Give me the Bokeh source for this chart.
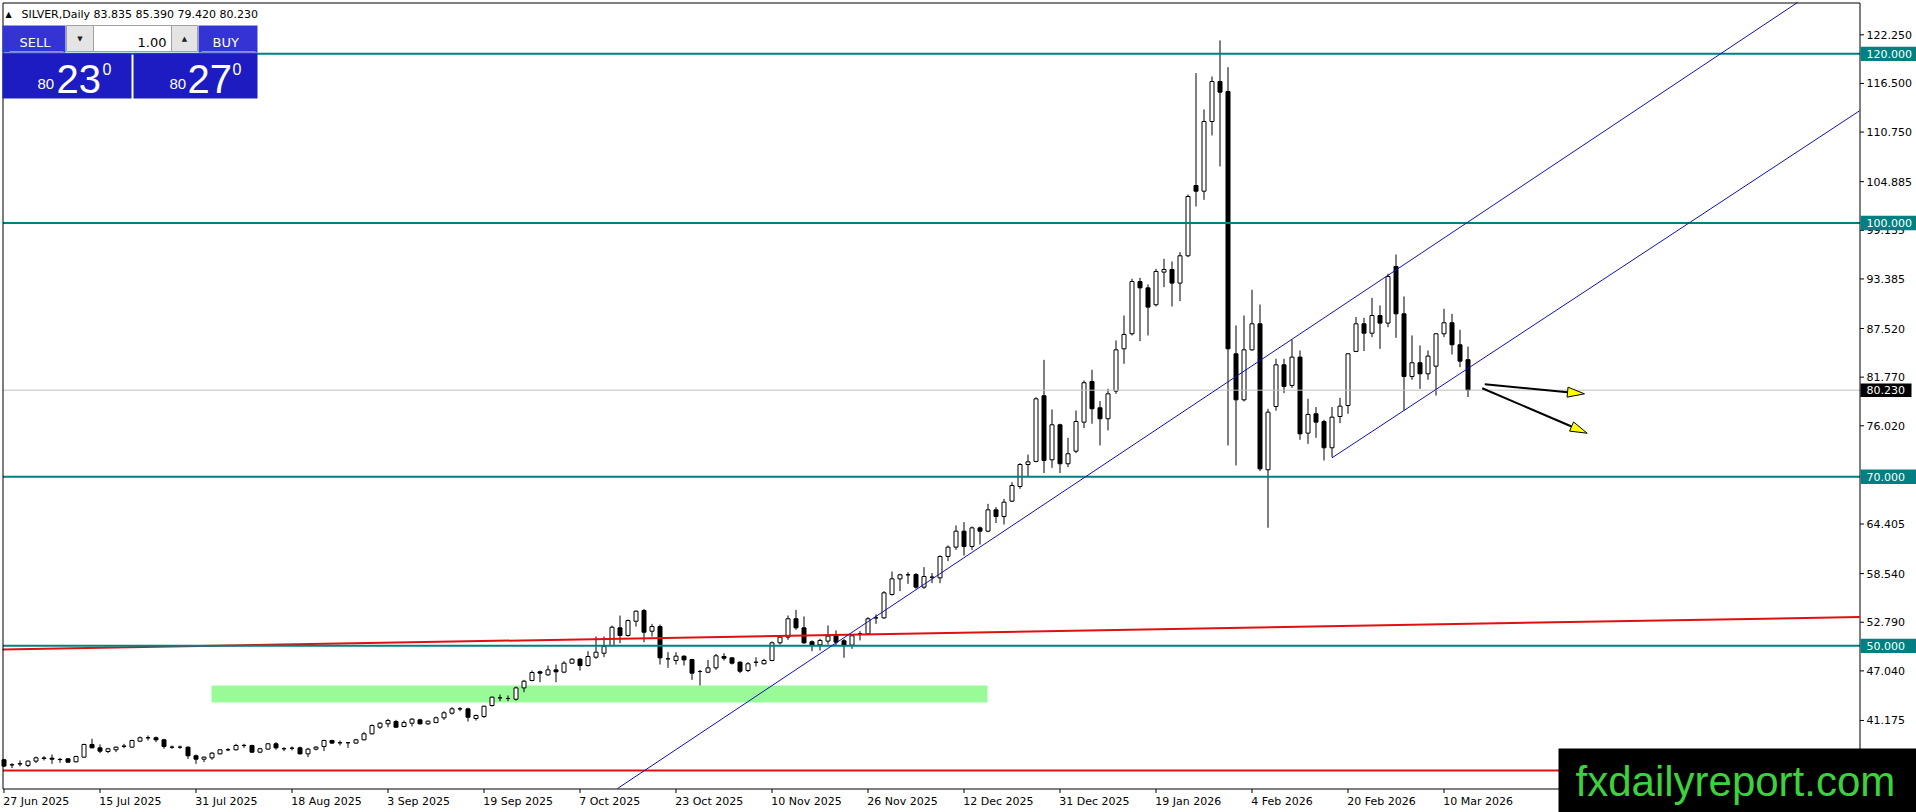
import math
from bokeh.plotting import figure
from bokeh.models import Range1d
from bokeh.core.properties import value
from bokeh.embed import file_html
from bokeh.resources import INLINE

# ---------------- data ----------------
opens = [36.53, 35.92, 36.03, 35.86, 36.37, 36.70, 36.72, 36.55, 36.64, 36.29,
         36.84, 38.34, 37.94, 37.51, 37.71, 38.12, 38.02, 38.73, 39.12, 39.13,
         38.89, 38.01, 38.02, 38.02, 37.00, 36.60, 36.76, 37.23, 37.70, 37.71,
         38.21, 38.22, 37.43, 37.79, 38.42, 37.83, 37.89, 37.94, 37.23, 37.79,
         38.10, 38.81, 38.53, 38.54, 38.50, 38.89, 39.60, 40.38, 40.78, 41.05,
         40.46, 40.85, 41.25, 40.78, 40.93, 41.49, 42.04, 42.54, 42.55, 41.41,
         41.64, 42.94, 43.85, 43.77, 43.69, 45.03, 45.90, 46.93, 46.57, 47.16,
         46.89, 47.95, 48.42, 47.67, 48.66, 49.13, 50.04, 52.13, 51.22, 52.91,
         54.18, 51.73, 52.28, 48.46, 48.27, 48.78, 48.38, 46.96, 46.88, 47.40,
         48.74, 48.58, 48.07, 47.09, 48.05, 47.88, 48.27, 50.36, 51.03, 53.20,
         52.13, 50.48, 50.12, 50.56, 51.23, 50.60, 50.08, 51.41, 51.42, 53.30,
         53.31, 56.07, 57.92, 58.39, 58.44, 56.94, 58.11, 58.04, 60.57, 61.67,
         63.56, 61.75, 63.95, 63.56, 66.08, 65.29, 67.11, 68.84, 71.44, 71.80,
         79.57, 72.00, 76.14, 71.53, 73.02, 76.45, 81.26, 78.15, 76.85, 80.12,
         85.12, 86.90, 93.08, 92.33, 90.33, 94.19, 94.50, 92.89, 96.12, 104.43,
         103.76, 112.00, 116.73, 115.55, 84.53, 79.09, 85.00, 88.08, 70.82, 78.30,
         83.23, 80.79, 84.14, 75.15, 77.44, 76.53, 73.42, 77.12, 78.42, 84.81,
         88.08, 86.97, 89.06, 88.16, 94.86, 89.26, 81.85, 83.47, 82.17, 83.07,
         86.90, 88.20, 85.60, 83.835]
highs = [36.64, 36.13, 36.45, 36.45, 36.92, 36.96, 37.16, 36.76, 36.72, 37.00,
         38.42, 39.01, 38.34, 37.94, 38.10, 38.42, 38.89, 39.28, 39.40, 39.28,
         39.01, 38.22, 38.22, 38.10, 37.16, 36.92, 37.43, 37.79, 37.90, 38.42,
         38.42, 38.30, 37.94, 38.50, 38.61, 38.02, 38.10, 38.10, 37.94, 38.14,
         38.89, 38.89, 38.81, 38.61, 39.01, 39.80, 40.70, 40.97, 41.37, 41.25,
         41.17, 41.45, 41.37, 41.17, 41.64, 42.27, 42.75, 42.75, 42.67, 41.88,
         42.94, 44.01, 44.24, 44.13, 45.19, 45.98, 47.08, 47.08, 47.67, 47.79,
         48.19, 48.54, 48.54, 49.37, 51.10, 51.10, 52.40, 53.58, 53.11, 54.18,
         54.37, 52.60, 52.52, 49.25, 49.25, 48.86, 48.46, 47.16, 48.34, 49.05,
         49.13, 48.66, 48.15, 48.07, 48.66, 48.47, 50.52, 51.23, 53.59, 54.26,
         53.47, 50.64, 50.83, 52.41, 51.82, 50.83, 51.34, 51.74, 53.39, 53.71,
         56.47, 58.79, 58.52, 58.71, 58.60, 59.30, 58.60, 60.68, 61.87, 64.23,
         64.63, 64.11, 64.11, 66.79, 66.40, 67.38, 69.35, 71.60, 72.62, 79.40,
         83.82, 77.95, 76.26, 74.60, 77.83, 81.38, 82.64, 78.94, 80.39, 86.11,
         89.06, 93.40, 93.52, 92.73, 94.58, 95.76, 95.45, 96.55, 103.37, 117.72,
         113.42, 117.32, 121.58, 118.42, 87.88, 89.06, 92.10, 90.36, 78.03, 83.94,
         83.94, 86.19, 84.92, 79.21, 78.23, 76.73, 78.23, 79.33, 84.61, 88.87,
         88.79, 91.15, 90.25, 93.99, 96.27, 91.31, 86.70, 85.52, 84.92, 86.97,
         89.85, 89.26, 87.37, 85.39]
lows = [35.66, 35.54, 35.74, 35.66, 36.13, 36.45, 36.05, 36.17, 36.17, 36.21,
        36.76, 37.90, 37.31, 37.31, 37.43, 37.90, 37.94, 38.61, 38.81, 38.61,
        37.83, 37.83, 37.83, 36.64, 36.05, 36.25, 36.53, 37.16, 37.55, 37.63,
        37.94, 37.35, 37.31, 37.71, 37.71, 37.55, 37.63, 37.16, 36.84, 37.63,
        37.55, 38.42, 38.22, 37.94, 38.42, 38.81, 39.52, 40.18, 40.38, 40.30,
        40.38, 40.46, 40.70, 40.66, 40.86, 41.25, 41.88, 42.27, 41.05, 41.17,
        41.49, 42.82, 43.46, 43.46, 43.53, 44.52, 45.82, 45.70, 46.45, 45.70,
        46.77, 47.87, 47.08, 47.55, 48.46, 48.66, 49.92, 50.31, 51.10, 52.28,
        50.43, 51.10, 47.79, 47.40, 47.79, 47.67, 45.98, 45.31, 46.77, 47.16,
        48.27, 47.79, 46.77, 46.89, 47.56, 47.80, 48.19, 50.16, 50.71, 51.89,
        50.24, 49.37, 49.45, 50.16, 50.04, 48.59, 49.65, 50.64, 51.30, 52.60,
        53.20, 55.95, 56.47, 57.33, 56.74, 56.74, 57.41, 57.41, 60.01, 61.35,
        60.68, 61.35, 61.98, 63.44, 64.51, 64.35, 66.99, 68.57, 69.95, 71.70,
        70.43, 71.05, 70.43, 71.13, 72.79, 75.74, 76.26, 73.69, 75.47, 79.80,
        83.35, 86.70, 86.03, 86.70, 90.13, 92.41, 90.13, 90.76, 95.96, 101.95,
        102.74, 110.35, 106.68, 73.69, 71.33, 78.90, 84.90, 70.66, 63.96, 77.80,
        79.88, 80.50, 74.36, 73.89, 74.60, 71.92, 72.31, 76.33, 77.44, 84.73,
        84.85, 86.50, 85.12, 87.68, 86.42, 77.83, 81.46, 80.39, 81.46, 79.60,
        86.50, 84.45, 82.95, 79.42]
closes = [35.78, 35.94, 36.07, 36.37, 36.76, 36.74, 36.60, 36.57, 36.25, 36.92,
          38.34, 37.94, 37.55, 37.83, 38.02, 38.15, 38.81, 39.13, 39.14, 38.89,
          38.10, 38.03, 38.02, 37.00, 36.60, 36.84, 37.31, 37.71, 37.72, 38.22,
          38.23, 37.43, 37.83, 38.42, 37.94, 37.84, 37.91, 37.23, 37.79, 38.02,
          38.81, 38.50, 38.55, 38.55, 38.89, 39.60, 40.58, 40.85, 41.17, 40.38,
          40.93, 41.33, 40.78, 41.09, 41.49, 42.08, 42.55, 42.56, 41.56, 41.76,
          42.86, 43.93, 43.86, 43.78, 45.03, 45.82, 46.85, 46.77, 47.16, 46.93,
          47.95, 48.42, 47.67, 48.74, 49.25, 49.92, 52.20, 51.22, 52.99, 54.10,
          51.61, 52.28, 48.58, 48.47, 48.78, 48.34, 46.77, 46.97, 47.40, 48.82,
          48.54, 47.95, 47.00, 47.88, 48.07, 48.27, 50.36, 51.03, 53.20, 52.13,
          50.36, 50.04, 50.64, 51.15, 50.44, 50.04, 51.19, 51.43, 53.20, 53.32,
          56.27, 57.92, 58.40, 58.41, 56.94, 58.20, 58.13, 60.57, 61.67, 63.56,
          61.75, 63.95, 63.56, 66.08, 65.29, 66.99, 68.96, 71.44, 71.76, 79.21,
          71.92, 76.14, 71.53, 72.71, 76.53, 81.11, 78.03, 76.85, 79.80, 85.00,
          86.82, 93.08, 92.33, 90.05, 94.27, 94.50, 92.89, 96.12, 103.13, 103.76,
          112.00, 116.73, 115.47, 85.12, 79.09, 85.00, 88.08, 70.93, 77.63, 83.23,
          80.67, 84.14, 75.07, 77.36, 76.45, 73.42, 77.04, 78.34, 84.53, 88.08,
          86.97, 89.06, 88.16, 93.67, 89.26, 81.85, 83.47, 82.17, 84.26, 86.90,
          88.20, 85.60, 83.66, 80.23]

xtick_bars = [0, 12, 24, 36, 48, 60, 72, 84, 96, 108, 120, 132, 144, 156, 168, 180]
xtick_labels = ["27 Jun 2025", "15 Jul 2025", "31 Jul 2025", "18 Aug 2025", "3 Sep 2025",
                "19 Sep 2025", "7 Oct 2025", "23 Oct 2025", "10 Nov 2025", "26 Nov 2025",
                "12 Dec 2025", "31 Dec 2025", "19 Jan 2026", "4 Feb 2026", "20 Feb 2026",
                "10 Mar 2026"]
ytick_vals = [122.25, 116.5, 110.75, 104.885, 99.135, 93.385, 87.52, 81.77, 76.02,
              64.405, 58.54, 52.79, 47.04, 41.175]

levels = [120.0, 100.0, 70.0, 50.0]
bid_price = 80.23
header_text = "SILVER,Daily  83.835 85.390 79.420 80.230"
sell_big, buy_big, price_prefix, volume_text = "23", "27", "80", "1.00"
watermark = "fxdailyreport.com"

zone_x = [25.94, 122.94]
zone_y = [43.30, 45.31]
trend_a_x = [76.69, 224.19]
trend_a_y = [33.13, 126.07]
trend_b_x = [166.0, 231.94]
trend_b_y = [72.23, 113.26]
red_top_x = [-0.19, 231.94]
red_top_y = [49.57, 53.41]
red_bottom_y = 35.26
arrow_x0 = [185.10, 184.78]
arrow_y0 = [80.94, 80.46]
arrow_x1 = [197.56, 197.90]
arrow_y1 = [79.80, 75.14]

# ---------------- layout (page pixels -> data) ----------------
W, H = 1916, 812
PXB = 8.0          # pixels per bar
PPP = 0.11824      # price per pixel


def sx(px):
    return (px - 3.5) / PXB


def sy(py):
    return 122.25 - (py - 34.3) * PPP


def base(py, size):
    # alphabetic text in the svg output sits about one descent lower
    return sy(py - 0.21 * size)


LEFT, TOP, RIGHT, BOTTOM = 2.5, 2.5, 1859.5, 788.5
XL, XR = sx(LEFT), sx(RIGHT)

TEAL = "#008080"
BLUE = "#1010b8"
RED = "#e01010"
FONT = "DejaVu Sans"

p = figure(width=W, height=H, x_range=Range1d(sx(0), sx(W)), y_range=Range1d(sy(H), sy(0)),
           output_backend="svg", toolbar_location=None, x_axis_location=None, y_axis_location=None,
           min_border=0, min_border_left=0, min_border_right=0, min_border_top=0, min_border_bottom=0,
           background_fill_color="white", border_fill_color="white")
p.outline_line_color = None
p.xgrid.visible = False
p.ygrid.visible = False

# support zone (background)
p.quad(left=[zone_x[0]], right=[zone_x[1]], bottom=[zone_y[0]], top=[zone_y[1]],
       fill_color="#98fb98", line_color=None)

# candles
n = len(opens)
xs = list(range(n))
up = [c >= o for o, c in zip(opens, closes)]
p.segment(x0=xs, y0=lows, x1=xs, y1=highs, line_color="black", line_width=1)
ux = [i for i in xs if up[i]]
dn = [i for i in xs if not up[i]]
p.vbar(x=ux, width=0.5, top=[max(opens[i], closes[i]) for i in ux],
       bottom=[min(opens[i], closes[i]) for i in ux], fill_color="white", line_color="black", line_width=1)
p.vbar(x=dn, width=0.5, top=[max(opens[i], closes[i]) for i in dn],
       bottom=[min(opens[i], closes[i]) for i in dn], fill_color="black", line_color="black", line_width=1)

# bid line
p.segment(x0=[XL], x1=[XR], y0=[bid_price], y1=[bid_price], line_color="#c0c0c0", line_width=1)

# red lines
p.line(x=red_top_x, y=red_top_y, line_color=RED, line_width=2)
p.segment(x0=[XL], x1=[XR], y0=[red_bottom_y], y1=[red_bottom_y], line_color=RED, line_width=2)

# teal levels
p.segment(x0=[XL] * len(levels), x1=[XR] * len(levels), y0=levels, y1=levels,
          line_color=TEAL, line_width=2)

# blue channel lines
p.line(x=trend_a_x, y=trend_a_y, line_color=BLUE, line_width=1)
p.line(x=trend_b_x, y=trend_b_y, line_color=BLUE, line_width=1)

# arrows
HEAD_L, HEAD_HW = 17.0, 5.0
PPX = 1.0 / PPP
for x0, y0, x1, y1 in zip(arrow_x0, arrow_y0, arrow_x1, arrow_y1):
    ddx = (x1 - x0) * PXB
    ddy = (y1 - y0) * PPX
    L = math.hypot(ddx, ddy)
    ux_, uy_ = ddx / L, ddy / L
    bx = x1 - HEAD_L * ux_ / PXB
    by = y1 - HEAD_L * uy_ / PPX
    nx, ny = -uy_, ux_
    p.segment(x0=[x0], y0=[y0], x1=[bx], y1=[by], line_color="black", line_width=2)
    p.patch(x=[x1, bx + HEAD_HW * nx / PXB, bx - HEAD_HW * nx / PXB],
            y=[y1, by + HEAD_HW * ny / PPX, by - HEAD_HW * ny / PPX],
            fill_color="#ffff00", line_color="black", line_width=1)

# ---------------- frame and axes (drawn by hand) ----------------
p.segment(x0=[XL, XL, XR, XL], x1=[XR, XL, XR, XR],
          y0=[sy(TOP), sy(TOP), sy(TOP), sy(BOTTOM)], y1=[sy(TOP), sy(BOTTOM), sy(BOTTOM), sy(BOTTOM)],
          line_color="black", line_width=1)
# right axis ticks + labels
p.segment(x0=[XR] * len(ytick_vals), x1=[sx(1863.5)] * len(ytick_vals), y0=ytick_vals, y1=ytick_vals,
          line_color="black", line_width=1)
p.text(x=[sx(1866)] * len(ytick_vals), y=ytick_vals, text=[f"{v:.3f}" for v in ytick_vals],
       text_font=value(FONT), text_font_size="11px", text_color="black",
       text_align="left", text_baseline="middle")
# bottom axis ticks + labels
p.segment(x0=xtick_bars, x1=xtick_bars, y0=[sy(BOTTOM)] * len(xtick_bars), y1=[sy(792.5)] * len(xtick_bars),
          line_color="black", line_width=1)
p.text(x=[b - 0.1 for b in xtick_bars], y=[base(803.5, 11)] * len(xtick_bars), text=xtick_labels,
       text_font=value(FONT), text_font_size="11px", text_color="black",
       text_align="left", text_baseline="alphabetic")

# price labels on the right axis
BOX_L, BOX_R = sx(1860), sx(1916)
p.quad(left=[BOX_L] * len(levels), right=[BOX_R] * len(levels),
       top=[lv + 7.2 * PPP for lv in levels], bottom=[lv - 7.2 * PPP for lv in levels],
       fill_color=TEAL, line_color=None)
p.text(x=[sx(1866)] * len(levels), y=levels, text=[f"{lv:.3f}" for lv in levels],
       text_font=value(FONT), text_font_size="11px", text_color="white",
       text_align="left", text_baseline="middle")
p.quad(left=[BOX_L], right=[sx(1911)], top=[bid_price + 6.8 * PPP], bottom=[bid_price - 6.8 * PPP],
       fill_color="black", line_color=None)
p.text(x=[sx(1866)], y=[bid_price], text=[f"{bid_price:.3f}"],
       text_font=value(FONT), text_font_size="11px", text_color="white",
       text_align="left", text_baseline="middle")

# watermark
p.quad(left=[sx(1558)], right=[sx(1917)], top=[sy(748)], bottom=[sy(813)],
       fill_color="black", line_color=None)
p.text(x=[sx(1575)], y=[base(790, 42)], text=[watermark], text_font=value("Liberation Sans"),
       text_font_size="42px", text_color="#3cd23c", text_align="left", text_baseline="alphabetic")

# ---------------- header + trade panel ----------------
p.text(x=[sx(5)], y=[base(15.5, 8)], text=["\u25b2"], text_font=value(FONT), text_font_size="8px",
       text_color="black", text_align="left", text_baseline="alphabetic")
p.text(x=[sx(21)], y=[base(16.7, 11)], text=[header_text], text_font=value(FONT), text_font_size="11px",
       text_color="black", text_align="left", text_baseline="alphabetic")

BTN = "#3434d4"
BOX = "#1c1cc2"
p.quad(left=[sx(2), sx(198)], right=[sx(65), sx(257)], top=[sy(25)] * 2, bottom=[sy(52)] * 2,
       fill_color=BTN, line_color=None)
p.quad(left=[sx(66), sx(171)], right=[sx(93), sx(197)], top=[sy(25)] * 2, bottom=[sy(51)] * 2,
       fill_color="#e4e4e4", line_color="#a0a0a0", line_width=1)
p.quad(left=[sx(93)], right=[sx(171)], top=[sy(25)], bottom=[sy(51)],
       fill_color="white", line_color="#a0a0a0", line_width=1)
p.quad(left=[sx(2), sx(133)], right=[sx(131), sx(257)], top=[sy(53)] * 2, bottom=[sy(98)] * 2,
       fill_color=BOX, line_color=None)
p.segment(x0=[sx(9), sx(201)], x1=[sx(63), sx(255)], y0=[sy(51)] * 2, y1=[sy(51)] * 2,
          line_color="#8c8cf0", line_width=1)

p.text(x=[sx(19), sx(212)], y=[base(45, 13)] * 2, text=["SELL", "BUY"], text_font=value(FONT),
       text_font_size="13px", text_color="white", text_align="left", text_baseline="alphabetic")
p.text(x=[sx(166)], y=[base(45, 13)], text=[volume_text], text_font=value(FONT),
       text_font_size="13px", text_color="black", text_align="right", text_baseline="alphabetic")
p.text(x=[sx(79.5), sx(184)], y=[sy(38), sy(38)], text=["\u25bc", "\u25b2"], text_font=value(FONT),
       text_font_size="7px", text_color="#202020", text_align="center", text_baseline="middle")

BIGF = "Liberation Sans"
p.text(x=[sx(37), sx(169)], y=[base(87, 15)] * 2, text=[price_prefix] * 2, text_font=value(BIGF),
       text_font_size="15px", text_color="white", text_align="left", text_baseline="alphabetic")
p.text(x=[sx(56), sx(187)], y=[base(87, 40)] * 2, text=[sell_big, buy_big], text_font=value(BIGF),
       text_font_size="40px", text_color="white", text_align="left", text_baseline="alphabetic")
p.text(x=[sx(102), sx(232)], y=[base(72, 16)] * 2, text=["0", "0"], text_font=value(BIGF),
       text_font_size="16px", text_color="white", text_align="left", text_baseline="alphabetic")

open("out.html", "w").write(file_html(p, INLINE))
